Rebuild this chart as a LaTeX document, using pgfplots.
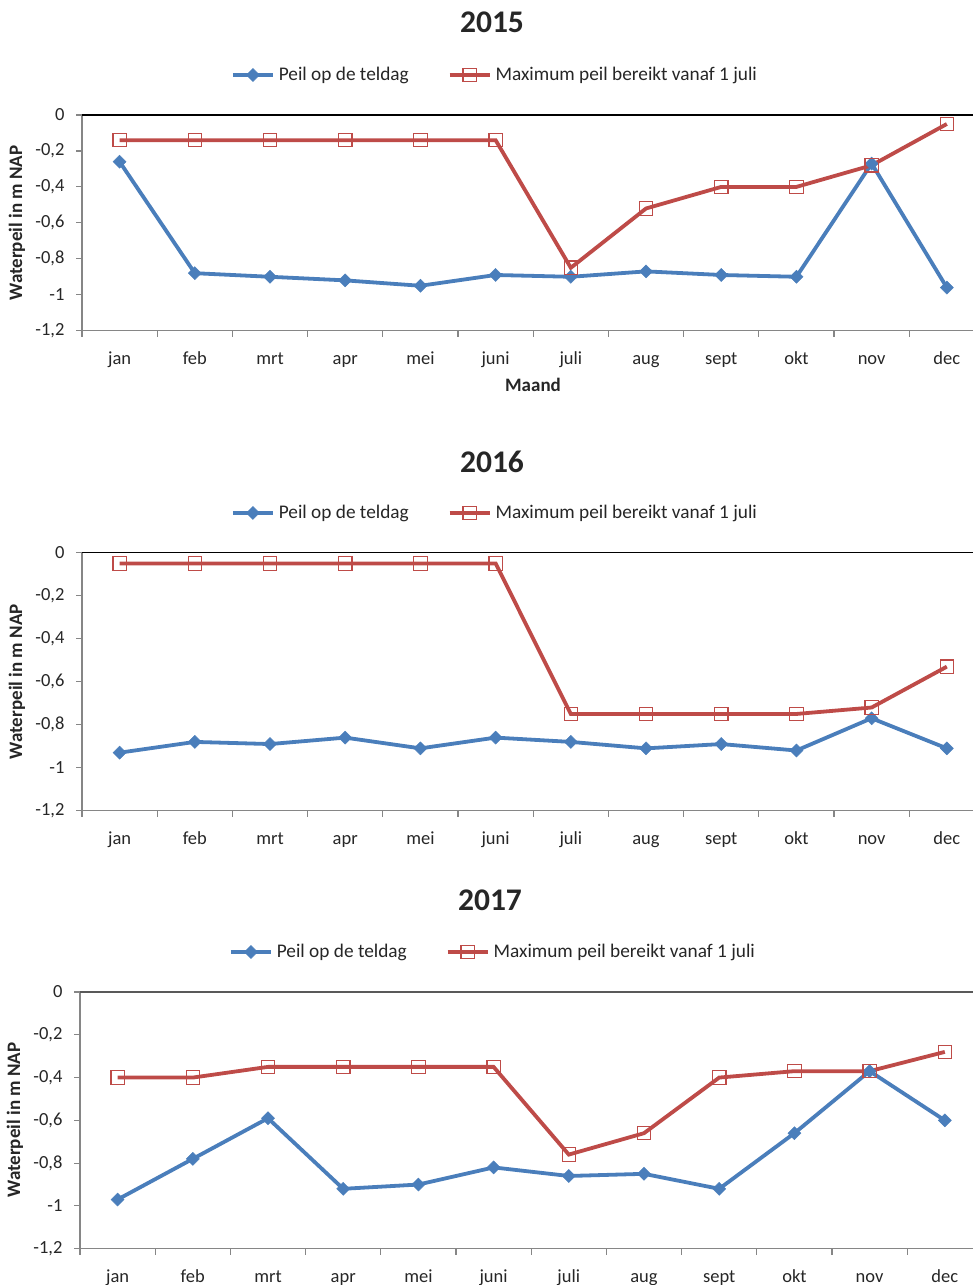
\documentclass[border=0pt]{standalone}
\usepackage{fontspec}
\setmainfont{Carlito}
\usepackage{pgfplots}
\pgfplotsset{compat=1.18}
\definecolor{sblue}{RGB}{74,126,187}
\definecolor{sred}{RGB}{190,75,72}
\definecolor{axgray}{RGB}{134,134,134}
\definecolor{txt}{RGB}{38,38,38}
\pgfplotsset{
  wpax/.style={
    scale only axis,
    xmin=-0.5, ymin=-1.2, ymax=0,
    axis lines=left,
    axis line style={-, draw=axgray, line width=1.3pt},
    xtick={0,...,11},
    xticklabels={jan,feb,mrt,apr,mei,juni,juli,aug,sept,okt,nov,dec},
    minor xtick={-0.5,0.5,1.5,2.5,3.5,4.5,5.5,6.5,7.5,8.5,9.5,10.5},
    major x tick style={draw=none},
    tick align=outside,
    minor tick length=6pt,
    major tick length=6pt,
    tick style={draw=axgray, line width=1.1pt},
    ytick={-1.2,-1,-0.8,-0.6,-0.4,-0.2,0},
    yticklabels={{-1,2},{-1},{-0,8},{-0,6},{-0,4},{-0,2},{0}},
    ticklabel style={font=\fontsize{18.5}{22}\selectfont, text=txt},
    xticklabel style={anchor=north, text height=13pt, text depth=4pt, yshift=-11pt},
    yticklabel style={xshift=-8pt},
    clip=false,
    legend columns=-1,
    legend style={draw=none, fill=none, font=\fontsize{19.3}{23}\selectfont, text=txt,
      /tikz/every odd column/.append style={column sep=2pt},
      /tikz/every even column/.append style={column sep=37pt}},
    legend cell align=left,
    legend image code/.code={\draw[##1, mark repeat=2, mark phase=2] plot coordinates {(0pt,0pt) (20pt,0pt) (40pt,0pt)};},
  },
  blueser/.style={draw=sblue, line width=3.8pt, mark=square*, mark size=4.6pt,
    mark options={rotate=45, fill=sblue, draw=sblue, line width=0.5pt, solid}},
  redser/.style={draw=sred, line width=3.8pt, mark=square, mark size=6.7pt,
    mark options={fill=none, draw=sred, line width=1.2pt, solid}},
}
\begin{document}
\begin{tikzpicture}
\useasboundingbox (0pt,0pt) rectangle (973pt,-1285pt);
% ---------- 2015 ----------
\node[font=\bfseries\fontsize{31.5}{36}\selectfont, text=txt] at (492pt,-22pt) {2015};
\node[rotate=90, font=\bfseries\fontsize{19}{22}\selectfont, text=txt] at (17pt,-223pt) {Waterpeil in m NAP};
\node[font=\bfseries\fontsize{19}{22}\selectfont, text=txt] at (533pt,-385pt) {Maand};
\begin{axis}[wpax, at={(82pt,-115pt)}, anchor=north west, width=891pt, height=215.7pt, xmax=11.348,
  legend style={at={(axis description cs:0.4635,1.1855)}, anchor=center}]
\addplot[blueser] coordinates {(0,-0.26) (1,-0.88) (2,-0.90) (3,-0.92) (4,-0.95) (5,-0.89) (6,-0.90) (7,-0.87) (8,-0.89) (9,-0.90) (10,-0.27) (11,-0.96)};
\addlegendentry{Peil op de teldag}
\addplot[redser] coordinates {(0,-0.14) (1,-0.14) (2,-0.14) (3,-0.14) (4,-0.14) (5,-0.14) (6,-0.85) (7,-0.52) (8,-0.40) (9,-0.40) (10,-0.28) (11,-0.05)};
\addlegendentry{Maximum peil bereikt vanaf 1 juli}
\draw[black, line width=1.3pt] (rel axis cs:0,1) -- (rel axis cs:1,1);
\end{axis}
% ---------- 2016 ----------
\node[font=\bfseries\fontsize{31.5}{36}\selectfont, text=txt] at (492pt,-462pt) {2016};
\node[rotate=90, font=\bfseries\fontsize{19}{22}\selectfont, text=txt] at (17pt,-681.7pt) {Waterpeil in m NAP};
\begin{axis}[wpax, at={(82pt,-552.7pt)}, anchor=north west, width=891pt, height=258pt, xmax=11.348,
  legend style={at={(axis description cs:0.4635,1.154)}, anchor=center}]
\addplot[blueser] coordinates {(0,-0.93) (1,-0.88) (2,-0.89) (3,-0.86) (4,-0.91) (5,-0.86) (6,-0.88) (7,-0.91) (8,-0.89) (9,-0.92) (10,-0.77) (11,-0.91)};
\addlegendentry{Peil op de teldag}
\addplot[redser] coordinates {(0,-0.05) (1,-0.05) (2,-0.05) (3,-0.05) (4,-0.05) (5,-0.05) (6,-0.75) (7,-0.75) (8,-0.75) (9,-0.75) (10,-0.72) (11,-0.53)};
\addlegendentry{Maximum peil bereikt vanaf 1 juli}
\draw[black, line width=1.3pt] (rel axis cs:0,1) -- (rel axis cs:1,1);
\end{axis}
% ---------- 2017 ----------
\node[font=\bfseries\fontsize{31.5}{36}\selectfont, text=txt] at (490pt,-900pt) {2017};
\node[rotate=90, font=\bfseries\fontsize{19}{22}\selectfont, text=txt] at (15pt,-1120pt) {Waterpeil in m NAP};
\begin{axis}[wpax, at={(80pt,-992pt)}, anchor=north west, width=893pt, height=256.7pt, xmax=11.375,
  legend style={at={(axis description cs:0.4625,1.156)}, anchor=center}]
\addplot[blueser] coordinates {(0,-0.97) (1,-0.78) (2,-0.59) (3,-0.92) (4,-0.90) (5,-0.82) (6,-0.86) (7,-0.85) (8,-0.92) (9,-0.66) (10,-0.37) (11,-0.60)};
\addlegendentry{Peil op de teldag}
\addplot[redser] coordinates {(0,-0.40) (1,-0.40) (2,-0.35) (3,-0.35) (4,-0.35) (5,-0.35) (6,-0.76) (7,-0.66) (8,-0.40) (9,-0.37) (10,-0.37) (11,-0.28)};
\addlegendentry{Maximum peil bereikt vanaf 1 juli}
\draw[black!65, line width=1.3pt] (rel axis cs:0,1) -- (rel axis cs:1,1);
\end{axis}
\end{tikzpicture}
\end{document}
